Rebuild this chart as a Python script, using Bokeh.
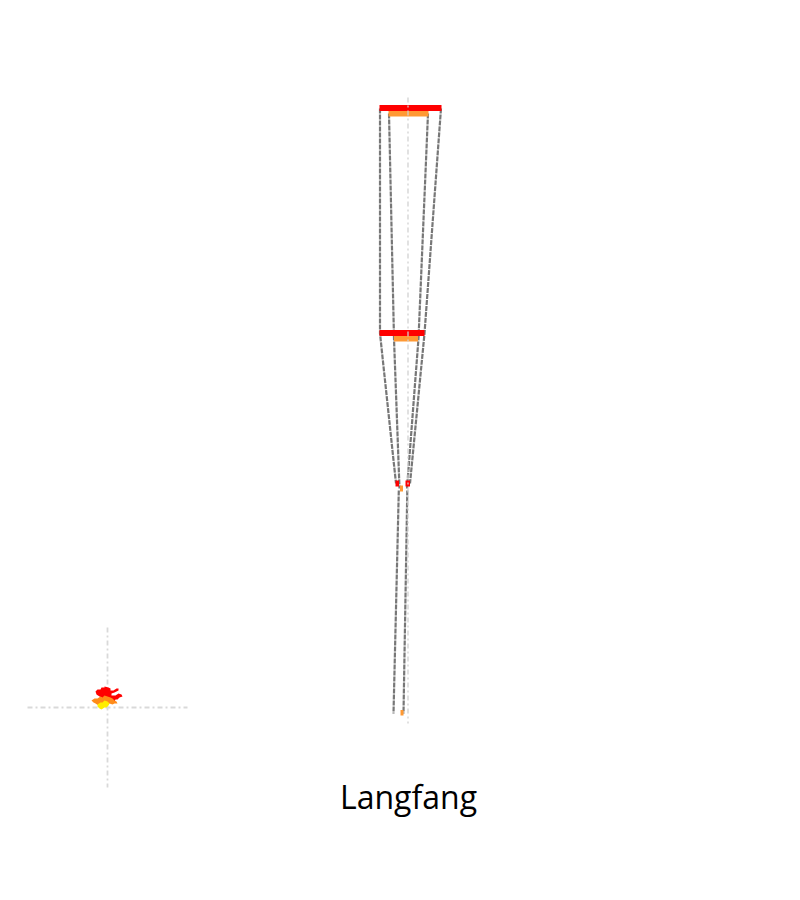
from bokeh.core.properties import value
from bokeh.embed import file_html
from bokeh.models import Range1d
from bokeh.plotting import figure
from bokeh.resources import INLINE

# chart title
title_text = "Langfang"

# stacked range bars per level (red = upper band, orange = lower band)
red_left = [379, 379, 395, 405]
red_right = [441, 424, 398.5, 409.5]
red_top = [104.5, 329.5, 480, 480]
red_bottom = [110.5, 335.5, 486, 486]

orange_left = [388, 393.5, 399.5, 400]
orange_right = [428, 417.5, 402.5, 403]
orange_top = [110.5, 335.5, 485, 709.5]
orange_bottom = [116, 341, 491, 715]

# dashed links between levels
link_xs = [
    [379.5, 379.5, 395.5],
    [388.5, 393.5, 399.0],
    [427.5, 418.0, 406.5],
    [440.5, 424.0, 409.5],
    [398.3, 393.0],
    [406.8, 403.0],
]
link_ys = [
    [108, 333, 483],
    [113, 338, 488],
    [113, 338, 488],
    [108, 333, 483],
    [490, 713],
    [490, 713],
]

# center axis of the level chart
axis_x = 407.5
axis_y = [97, 723]

# inset map of the district (outline points of each coloured zone)
map_center = (107, 707)
map_span = 80
zone_colors = ["#ff0000", "#ff8c1a", "#ffee00"]
zone_xs = [
    [95, 97, 100, 101, 104, 104, 108, 110, 110, 113, 116, 118, 118, 114, 111, 111, 115, 118, 121, 122, 119, 117,
     115, 114, 112, 110, 108, 106, 103, 101, 99, 96],
    [91, 94, 97, 100, 102, 104, 107, 110, 112, 114, 116, 117, 114, 112, 109, 107, 104, 101, 98, 95, 93],
    [97, 100, 102, 104, 107, 109, 108, 106, 104, 101, 99, 97],
]
zone_ys = [
    [691, 689, 689, 687, 687, 686, 687, 688, 690, 690, 688, 688, 690, 692, 693, 695, 695, 693, 694, 696, 697, 699,
     699, 701, 702, 700, 701, 699, 699, 697, 696, 694],
    [700, 698, 698, 696, 697, 695, 696, 697, 698, 700, 701, 703, 703, 704, 703, 705, 705, 704, 705, 703, 702],
    [704, 702, 702, 700, 701, 703, 705, 707, 707, 709, 708, 706],
]

p = figure(width=784, height=884, output_backend="svg", toolbar_location=None,
           x_range=Range1d(0, 784), y_range=Range1d(884, 0), min_border=0)
p.axis.visible = False
p.grid.visible = False
p.outline_line_color = None
p.background_fill_color = "white"

# inset map crosshair
cx, cy = map_center
p.line([cx - map_span, cx + map_span], [cy, cy], line_color="#d9d9d9", line_width=1.8, line_dash="5 3 2 3")
p.line([cx, cx], [cy - map_span, cy + map_span], line_color="#d9d9d9", line_width=1.8, line_dash="5 3 2 3")
p.patches(zone_xs, zone_ys, fill_color=zone_colors, line_color=None)

# links
p.multi_line(link_xs, link_ys, line_color="#777777", line_width=2.2, line_dash="5 1")

# bars
p.quad(left=red_left, right=red_right, top=red_top, bottom=red_bottom, fill_color="#ff0000", line_color=None)
p.quad(left=orange_left, right=orange_right, top=orange_top, bottom=orange_bottom, fill_color="#ff9933", line_color=None)

# center axis
p.line([axis_x, axis_x], axis_y, line_color="#d0d0d0", line_alpha=0.7, line_width=1.8, line_dash="5 3 2 3")

p.text(x=[408], y=[796], text=[title_text], text_font=value("Open Sans"), text_font_size="32px",
       text_align="center", text_baseline="alphabetic", text_color="#000000")

open("out.html", "w").write(file_html(p, INLINE))
